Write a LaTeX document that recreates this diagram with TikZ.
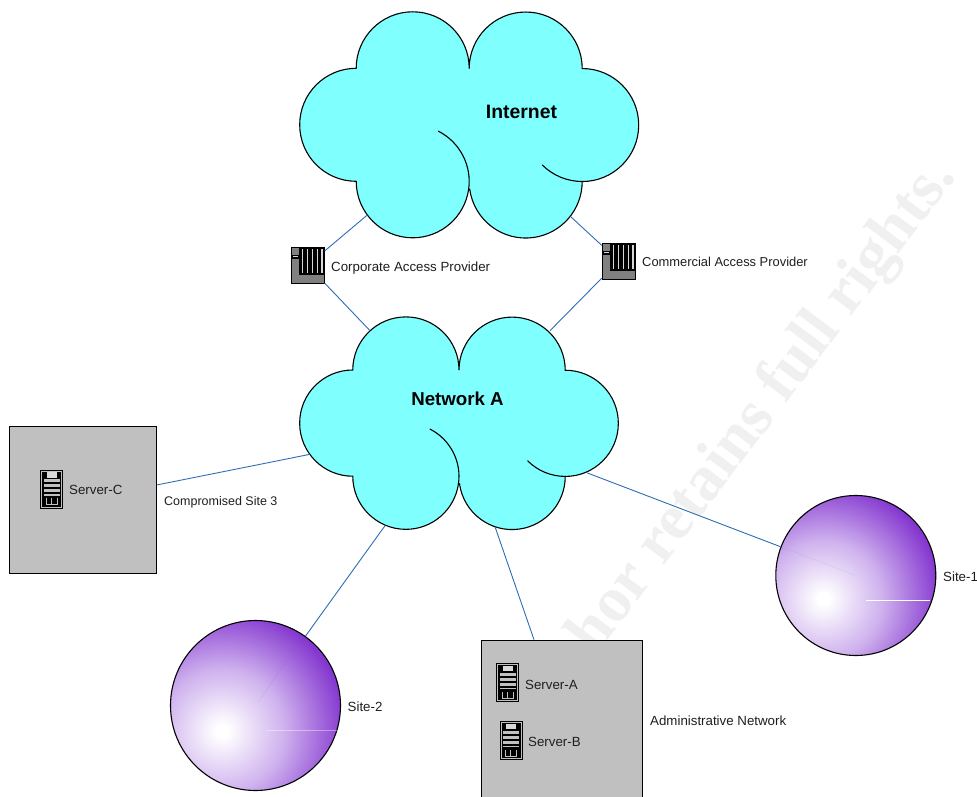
\documentclass[tikz,border=0pt]{standalone}
\usepackage{fontspec}
\setmainfont{Liberation Sans}
\newfontfamily\wmfont{Liberation Serif}
\definecolor{cloudfill}{HTML}{80FFFF}
\definecolor{linkblue}{HTML}{2F6DB5}
\definecolor{boxgray}{HTML}{C0C0C0}
\definecolor{iconlight}{HTML}{D8D8D8}
\definecolor{rackgray}{HTML}{808080}
\definecolor{wmgray}{HTML}{F0F0F0}
\definecolor{sitemid}{HTML}{CFB2EE}
\definecolor{siteout}{HTML}{8436CF}
\pgfdeclareradialshading{sitegrad}{\pgfpoint{0bp}{0bp}}{color(0bp)=(white); color(1bp)=(white); color(10.4bp)=(sitemid); color(21bp)=(siteout); color(50bp)=(siteout)}
\tikzset{
  cloudline/.style={draw=black,line width=1.1pt,fill=cloudfill},
  innerarc/.style={draw=black,line width=1.1pt,line cap=round},
  link/.style={draw=linkblue,line width=0.9pt},
  faintlink/.style={draw=linkblue,line width=0.6pt,opacity=0.1},
  sitedisc/.style={circle,draw=black,line width=1.1pt,inner sep=0pt},
  graybox/.style={rectangle,draw=black,line width=0.8pt,fill=boxgray,inner sep=0pt},
  lab/.style={anchor=base west,inner sep=0pt,font=\fontsize{13.3}{15}\selectfont,text=black!88},
  biglab/.style={anchor=base,inner sep=0pt,font=\fontsize{18.7}{21}\selectfont\bfseries},
  rackbox/.style={rectangle,draw=black,line width=0.9pt,fill=rackgray,inner sep=0pt,minimum width=33pt,minimum height=36pt},
  srvbox/.style={rectangle,draw=black,line width=0.9pt,fill=boxgray,inner sep=0pt,minimum width=22pt,minimum height=38pt},
}
% cloud drawn about its centre
\newcommand{\cloudat}[3]{%
  \begin{scope}[shift={(#1,#2)},scale=#3]
    \path[cloudline] (0,-56.7)
      arc[start angle=0,end angle=-180,radius=56.5]
      arc[start angle=-90,end angle=-270,radius=56.5]
      arc[start angle=180,end angle=8,radius=56.5]
      -- (0.55,64.4)
      arc[start angle=172,end angle=0,radius=56.5]
      arc[start angle=90,end angle=-90,radius=56.5]
      arc[start angle=0,end angle=-180,radius=56.5] -- cycle;
    \path[innerarc] (-30.85,6.16) arc[start angle=-63,end angle=8,radius=56.5];
    \path[innerarc] (73.05,39.95) arc[start angle=135,end angle=90,radius=56.5];
  \end{scope}}
% rack icon
\newcommand{\rackat}[3]{%
  \node[rackbox] (#1) at (#2,#3) {};
  \begin{scope}[shift={(#2,#3)}]
    \fill[black] (-8.5,-17.5) rectangle (16.5,9.5);
    \foreach \sx in {-6,-1,4,9,13.5} \fill[iconlight] (\sx,-16) rectangle ++(1.6,24);
    \fill[black] (-16,-10.5) rectangle (-8,-6.5);
    \fill[iconlight] (-15,-9.5) rectangle (-10,-8.5);
  \end{scope}}
% server icon
\newcommand{\serverat}[3]{%
  \node[srvbox] (#1) at (#2,#3) {};
  \begin{scope}[shift={(#2,#3)}]
    \fill[black] (-9.5,-17.5) rectangle (9.5,17.5);
    \fill[iconlight] (-5,-17) rectangle (5,-11.5);
    \fill[boxgray] (-8,-10) rectangle (8,-7);
    \fill[boxgray] (-8,-5) rectangle (8,-2);
    \fill[boxgray] (-8,0) rectangle (8,3);
    \fill[boxgray] (-8,5) rectangle (8,6.5);
    \fill[boxgray] (-6,9) rectangle (-4.6,16);
    \fill[boxgray] (-1,9) rectangle (0.4,16);
    \fill[boxgray] (5,9) rectangle (6.4,16);
    \fill[boxgray] (-6,15) rectangle (6.4,16);
  \end{scope}}
% disc with an off-centre highlight
\newcommand{\siteat}[7]{%
  \begin{scope}
    \clip (#2,#3) circle[radius=#4];
    \shade[shading=sitegrad] (#5,#6) circle[radius=#7];
  \end{scope}}
\begin{document}
\begin{tikzpicture}[x=1pt,y=-1pt]
  \clip (0,0) rectangle (977,797);
  \fill[white] (0,0) rectangle (977,797);
  % watermark
  \node[anchor=base east,rotate=53,inner sep=0pt,text=wmgray,font=\wmfont\fontsize{64}{64}\selectfont\bfseries] (mark) at (957,177) {Author retains full rights.};
  % clouds
  \cloudat{469.2}{125}{1}
  \cloudat{459}{423.3}{0.94}
  \coordinate (inetsw) at (367.3,215);
  \coordinate (inetse) at (570.7,216.7);
  \coordinate (netnw) at (370,330.7);
  \coordinate (netne) at (550,330.7);
  \coordinate (netw) at (310,454.3);
  \coordinate (netsw) at (385,525.7);
  \coordinate (nets) at (495,526.7);
  \coordinate (netse) at (586.7,472.7);
  \node[biglab,font=\fontsize{19.4}{21}\selectfont\bfseries] (inetlab) at (521.5,118.3) {Internet};
  \node[biglab] (netlab) at (457.5,405) {Network A};
  % gray boxes and discs
  \node[graybox,minimum width=147.4pt,minimum height=147.4pt] (compbox) at (83,499.7) {};
  \node[graybox,minimum width=160.6pt,minimum height=162pt] (adminbox) at (562,721) {};
  \siteat{s1}{855.8}{575.5}{79.8}{823.3}{599}{140}
  \siteat{s2}{255.5}{705.5}{85}{222}{731}{148}
  \node[sitedisc,minimum size=160pt] (site1) at (855.8,575.5) {};
  \node[sitedisc,minimum size=170pt] (site2) at (255.5,705.5) {};
  % faint traces across the discs
  \coordinate (trace1a) at (855,575);
  \coordinate (trace1b) at (781.7,547.3);
  \coordinate (trace2a) at (258,702);
  \coordinate (trace2b) at (305,635);
  \path[faintlink] (trace1a) -- (trace1b);
  \path[faintlink] (trace2a) -- (trace2b);
  \coordinate (w1a) at (866,600); \coordinate (w1b) at (930,600);
  \coordinate (w2a) at (267,730); \coordinate (w2b) at (337,730);
  \draw[white,line width=0.7pt] (w1a) -- (w1b);
  \draw[white,line width=0.5pt,opacity=0.4] (w2a) -- (w2b);
  % icons
  \rackat{rack1}{307.7}{265.3}
  \rackat{rack2}{618.7}{261}
  \serverat{srvc}{51.5}{489}
  \serverat{srva}{507.8}{682.7}
  \serverat{srvb}{511}{740.5}
  % labels
  \node[lab] (lrack1) at (331,271.7) {Corporate Access Provider};
  \node[lab,font=\fontsize{12.9}{15}\selectfont] (lrack2) at (642,266) {Commercial Access Provider};
  \node[lab] (lsrvc) at (69,494) {Server-C};
  \node[lab,font=\fontsize{12.5}{15}\selectfont] (lcomp) at (164,505.5) {Compromised Site 3};
  \node[lab] (lsite1) at (943,581) {Site-1};
  \node[lab] (lsite2) at (347.5,711.7) {Site-2};
  \node[lab] (lsrva) at (525,689) {Server-A};
  \node[lab] (lsrvb) at (528,746) {Server-B};
  \node[lab] (ladmin) at (650,725.5) {Administrative Network};
  % connectors
  \draw[link] (inetsw) -- (rack1);
  \draw[link] (rack1) -- (netnw);
  \draw[link] (inetse) -- (rack2);
  \draw[link] (rack2) -- (netne);
  \draw[link] (netw) -- (compbox);
  \draw[link] (netsw) -- (site2);
  \draw[link] (nets) -- (adminbox);
  \draw[link] (netse) -- (site1);
\end{tikzpicture}
\end{document}
